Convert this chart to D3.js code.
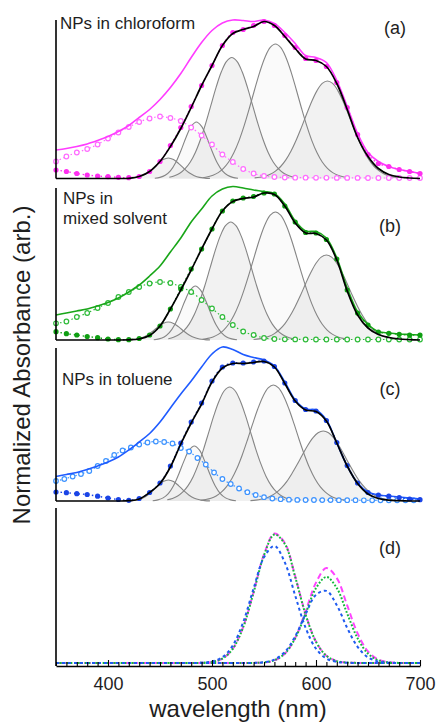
<!DOCTYPE html>
<html>
<head>
<meta charset="utf-8">
<script src="https://cdn.jsdelivr.net/npm/d3@7"></script>
<style>
  body { margin: 0; background: #fff; }
  svg { display: block; font-family: "Liberation Sans", Arial, sans-serif; }
</style>
</head>
<body>
<script>
var width = 437,
    height = 723;

// wavelength grids (nm)
var wl = d3.range(350, 701, 10);
var wlScatterC = d3.range(350, 695, 8);
var peakStep = 5;
var majorTicks = [400, 500, 600, 700];

// (a) NPs in chloroform  (arb. units)
var rawA = [28.5, 30, 32, 34.5, 38, 42, 47, 53, 61, 69, 79, 91, 105, 121, 136, 148, 155.5, 158.5, 158, 157, 158.5, 155, 146, 135, 123, 121, 116, 98, 72, 45, 26, 17, 12, 9, 7, 5];
var scatterA = [17, 22, 26, 29.5, 34, 40, 46, 51.5, 56.5, 60, 62, 60.5, 57.5, 51, 43, 34, 24, 16.5, 9.5, 5, 2.5, 1.5, 1, 0.8, 0.8, 0.7, 0.7, 0.6, 0.6, 0.6, 0.5, 0.5, 0.5, 0.5, 0.5, 0.5];
var dotsA = [8.5, 7, 5, 3.5, 2.5, 1.8, 1.2, 0.8, 2, 7, 17, 33, 51, 72, 93, 113, 133, 146, 149, 153, 157, 153, 143, 131, 120, 118, 112, 96, 71, 44, 24, 15, 12, 9, 7, 5];
var fitA = [0, 0, 0, 0, 0, 0, 0, 0.2, 2, 7, 17, 32, 50, 71, 93, 113, 133, 145, 149, 152, 157, 153, 142, 130, 119.5, 118, 112, 95, 69, 41, 22, 10, 4, 1.5, 0.5, 0];
var peakStartA = [418, 445, 459, 491, 541];
var peaksA = [
  [0.1, 0.4, 1.1, 2.8, 5.7, 10.0, 14.9, 18.9, 20.5, 18.9, 14.9, 10.0, 5.7, 2.8, 1.1, 0.4, 0.1],
  [0.3, 1.1, 3.2, 7.6, 15.7, 27.5, 41.0, 52.1, 56.5, 52.1, 41.0, 27.5, 15.7, 7.6, 3.2, 1.1, 0.3],
  [1.3, 2.8, 5.3, 9.7, 16.3, 26.1, 39.3, 55.4, 73.4, 91.4, 106.7, 117.2, 121, 117.2, 106.7, 91.4, 73.4, 55.4, 39.3, 26.1, 16.3, 9.7, 5.3, 2.8, 1.3],
  [0.8, 1.7, 3.3, 5.9, 10.2, 16.5, 25.7, 37.9, 53.1, 70.5, 89.0, 106.7, 121.3, 131.1, 134.5, 131.1, 121.3, 106.7, 89.0, 70.5, 53.1, 37.9, 25.7, 16.5, 10.2, 5.9, 3.3, 1.7, 0.8],
  [0.6, 1.2, 2.4, 4.3, 7.4, 12.0, 18.6, 27.5, 38.5, 51.1, 64.5, 77.3, 87.9, 95.1, 97.5, 95.1, 87.9, 77.3, 64.5, 51.1, 38.5, 27.5, 18.6, 12.0, 7.4, 4.3, 2.4, 1.2, 0.6]
];

// (b) NPs in mixed solvent
var rawB = [25, 27, 29, 31, 34, 37.5, 42, 48, 55, 64, 74, 88, 102, 118, 131, 144, 151, 153.5, 152, 150, 148.5, 146.5, 136, 119, 109, 108.5, 102, 82, 52, 28, 15.5, 8.5, 7, 6, 5.5, 5];
var scatterB = [16.7, 18.5, 23, 27, 32, 37, 43, 48, 53, 56.5, 58, 57, 53, 48, 40, 31.5, 23, 15, 8.5, 5, 2, 1, 0.7, 0.6, 0.5, 0.5, 0.5, 0.5, 0.5, 0.5, 0.5, 0.5, 0.5, 0.5, 0.5, 0.5];
var dotsB = [8.3, 6.3, 5, 3.5, 2.3, 1, 0.3, 0.3, 1.5, 5, 14, 31, 51, 71, 91, 111, 129, 139, 142, 143.5, 147, 146, 134, 118, 107.5, 107, 100.5, 81, 50, 27, 15, 8, 6.7, 5.7, 5, 5];
var fitB = [0, 0, 0, 0, 0, 0, 0, 0.2, 1, 4.5, 14, 31, 50, 70, 91, 111, 129, 138.5, 141.5, 143, 147, 145.5, 134, 117, 107, 106.5, 100, 80, 49, 25, 12, 5.5, 2.5, 1, 0.4, 0];
var peakStartB = [418, 444, 458, 491, 540];
var peaksB = [
  [0.1, 0.4, 1.0, 2.4, 5.0, 8.8, 13.1, 16.6, 18, 16.6, 13.1, 8.8, 5.0, 2.4, 1.0, 0.4, 0.1],
  [0.3, 1.1, 3.0, 7.3, 15.0, 26.3, 39.2, 49.8, 54, 49.8, 39.2, 26.3, 15.0, 7.3, 3.0, 1.1, 0.3],
  [1.3, 2.7, 5.2, 9.4, 15.9, 25.5, 38.4, 54.0, 71.6, 89.1, 104.1, 114.3, 118, 114.3, 104.1, 89.1, 71.6, 54.0, 38.4, 25.5, 15.9, 9.4, 5.2, 2.7, 1.3],
  [0.8, 1.6, 3.1, 5.6, 9.7, 15.7, 24.4, 36.1, 50.6, 67.1, 84.7, 101.5, 115.5, 124.8, 128, 124.8, 115.5, 101.5, 84.7, 67.1, 50.6, 36.1, 24.4, 15.7, 9.7, 5.6, 3.1, 1.6, 0.8],
  [0.5, 1.1, 2.1, 3.7, 6.4, 10.5, 16.2, 24.0, 33.6, 44.5, 56.3, 67.4, 76.7, 82.9, 85, 82.9, 76.7, 67.4, 56.3, 44.5, 33.6, 24.0, 16.2, 10.5, 6.4, 3.7, 2.1, 1.1, 0.5]
];

// (c) NPs in toluene
var rawC = [24.5, 26.5, 28.5, 31.5, 35, 39, 44, 51, 59, 67.5, 79, 93, 107, 120, 134, 147, 154, 151.5, 146.5, 143.5, 141, 135, 119, 101, 92, 91, 81, 58, 35, 18, 9, 6, 5, 4, 3, 2];
var scatterC = [20, 22, 24.5, 27, 30, 35, 40, 46, 50.5, 53.5, 56.5, 58.5, 59.5, 59, 57.5, 53, 49.5, 43, 36.5, 28.5, 22, 17, 12.5, 8.8, 6, 3.8, 2.5, 1.8, 1.3,
                1.1, 1, 1, 0.9, 0.9, 0.8, 0.8, 0.8, 0.7, 0.7, 0.7, 0.7, 0.7, 0.7, 0.7];
var dotsC = [9, 8.3, 7.3, 6.5, 4.8, 3, 1.5, 0.7, 2.5, 8.5, 18, 35, 58, 79, 98, 120, 134, 138, 138, 139, 140, 134.5, 118, 100.5, 91.5, 90, 80.5, 58.5, 35.5, 18, 8.5, 6, 4.8, 3.5, 2, 1.3];
var fitC = [0, 0, 0, 0, 0, 0, 0, 0.3, 2, 8.5, 17.5, 34, 57, 78, 97, 119, 133, 137.5, 137.5, 138.5, 139.5, 134, 117.5, 100, 91, 89.5, 80, 58, 35, 17.5, 7, 2.5, 0.8, 0.3, 0, 0];
var peakStartC = [418, 443, 457, 489, 537];
var peaksC = [
  [0.1, 0.4, 1.2, 2.8, 5.8, 10.2, 15.2, 19.4, 21, 19.4, 15.2, 10.2, 5.8, 2.8, 1.2, 0.4, 0.1],
  [0.3, 1.1, 3.1, 7.4, 15.3, 26.8, 39.9, 50.8, 55, 50.8, 39.9, 26.8, 15.3, 7.4, 3.1, 1.1, 0.3],
  [1.3, 2.6, 5.0, 9.1, 15.4, 24.6, 37.1, 52.2, 69.2, 86.1, 100.5, 110.5, 114, 110.5, 100.5, 86.1, 69.2, 52.2, 37.1, 24.6, 15.4, 9.1, 5.0, 2.6, 1.3],
  [0.7, 1.5, 2.8, 5.1, 8.8, 14.3, 22.2, 32.7, 45.8, 60.8, 76.8, 92.0, 104.6, 113.1, 116, 113.1, 104.6, 92.0, 76.8, 60.8, 45.8, 32.7, 22.2, 14.3, 8.8, 5.1, 2.8, 1.5, 0.7],
  [0.4, 0.9, 1.7, 3.1, 5.3, 8.6, 13.4, 19.7, 27.7, 36.7, 46.3, 55.5, 63.1, 68.3, 70, 68.3, 63.1, 55.5, 46.3, 36.7, 27.7, 19.7, 13.4, 8.6, 5.3, 3.1, 1.7, 0.9, 0.4]
];

// (d) the two main bands of each sample
var dPink560 = [0, 0, 0, 0, 0, 0, 0, 0, 0, 0, 0, 0, 0, 0, 0.2, 1.1, 4.4, 14.3, 36.1, 71, 108.6, 129.4, 120, 86.7, 48.8, 21.4, 7.3, 1.9, 0.4, 0.1, 0, 0, 0, 0, 0, 0];
var dGreen560 = [0, 0, 0, 0, 0, 0, 0, 0, 0, 0, 0, 0, 0, 0, 0.2, 1.1, 4.4, 14.2, 35.8, 70.5, 107.8, 128.4, 119.1, 86, 48.4, 21.2, 7.2, 1.9, 0.4, 0.1, 0, 0, 0, 0, 0, 0];
var dBlue560 = [0, 0, 0, 0, 0, 0, 0, 0, 0, 0, 0, 0, 0, 0, 0.3, 1.5, 5.8, 17.5, 40.9, 74.5, 105.7, 117, 100.6, 67.4, 35.2, 14.3, 4.5, 1.1, 0.2, 0, 0, 0, 0, 0, 0, 0];
var dPink610 = [0, 0, 0, 0, 0, 0, 0, 0, 0, 0, 0, 0, 0, 0, 0, 0, 0, 0, 0, 0.1, 0.6, 2.6, 9.2, 25.1, 51.6, 80.4, 94.9, 84.9, 57.6, 29.6, 11.6, 3.4, 0.8, 0.1, 0, 0];
var dGreen610 = [0, 0, 0, 0, 0, 0, 0, 0, 0, 0, 0, 0, 0, 0, 0, 0, 0, 0, 0, 0.1, 0.6, 2.7, 9.4, 24.7, 49.4, 74.9, 86, 74.9, 49.4, 24.7, 9.4, 2.7, 0.6, 0.1, 0, 0];
var dBlue610 = [0, 0, 0, 0, 0, 0, 0, 0, 0, 0, 0, 0, 0, 0, 0, 0, 0, 0, 0, 0.1, 0.8, 3.4, 11, 26.6, 48.9, 68.2, 72.1, 57.8, 35.1, 16.2, 5.6, 1.5, 0.3, 0, 0, 0];

var svg = d3.select("body").append("svg")
    .attr("width", width)
    .attr("height", height);

var x = d3.scaleLinear()
    .domain([350, 700])
    .range([56, 420]);

var curve = d3.curveCatmullRom.alpha(0.5);
var textColor = "#1e1e1e";

var panels = [
  {raw: rawA, scatter: scatterA, scatterWl: wl, dots: dotsA, fit: fitA, starts: peakStartA, peaks: peaksA,
   base: 178.5, top: 20, color: "#ff3cff", open: "#ff6cff", dot: "#ff2ef0",
   tag: "(a)", tagX: 395, tagY: 34, name: ["NPs in chloroform"], nameX: 60, nameY: 28.5},
  {raw: rawB, scatter: scatterB, scatterWl: wl, dots: dotsB, fit: fitB, starts: peakStartB, peaks: peaksB,
   base: 340, top: 188, color: "#19a619", open: "#2fbb3a", dot: "#0f9e12",
   tag: "(b)", tagX: 390, tagY: 232, name: ["NPs in", "mixed solvent"], nameX: 63, nameY: 204},
  {raw: rawC, scatter: scatterC, scatterWl: wlScatterC, dots: dotsC, fit: fitC, starts: peakStartC, peaks: peaksC,
   base: 501, top: 348, color: "#1f5bff", open: "#3d93ff", dot: "#1a44e6",
   tag: "(c)", tagX: 390, tagY: 395, name: ["NPs in toluene"], nameX: 62, nameY: 385}
];

function drawPanel(p) {
  var y = d3.scaleLinear().domain([0, 160]).range([p.base, p.base - 160]);
  var g = svg.append("g");

  var line = d3.line()
      .x(d => x(d[0]))
      .y(d => y(d[1]))
      .curve(curve);
  var area = d3.area()
      .x(d => x(d[0]))
      .y0(y(0))
      .y1(d => y(d[1]))
      .curve(curve);

  var onGrid = vals => vals.map((v, i) => [wl[i], v]);
  var comps = p.peaks.map((vals, k) => vals.map((v, i) => [p.starts[k] + i * peakStep, v]));

  // fitted gaussian bands
  g.selectAll(".band-fill")
    .data(comps).enter()
    .append("path")
    .attr("d", area)
    .attr("fill", (d, k) => k % 2 ? "#e6e6e6" : "#d6d6d6")
    .attr("fill-opacity", (d, k) => k % 2 ? 0.22 : 0.32);

  g.selectAll(".band")
    .data(comps).enter()
    .append("path")
    .attr("d", line)
    .attr("fill", "none")
    .attr("stroke", "#858585")
    .attr("stroke-width", 1.1);

  // scattering background (open circles)
  var scat = p.scatter.map((v, i) => [p.scatterWl[i], v]);
  g.append("path")
    .datum(scat)
    .attr("d", line)
    .attr("fill", "none")
    .attr("stroke", p.open)
    .attr("stroke-width", 1.2)
    .attr("stroke-dasharray", "1.5,2.5");
  g.selectAll(".open")
    .data(scat).enter()
    .append("circle")
    .attr("cx", d => x(d[0]))
    .attr("cy", d => y(d[1]))
    .attr("r", 2.3)
    .attr("fill", "#fff")
    .attr("stroke", p.open)
    .attr("stroke-width", 1.2);

  // measured spectrum
  g.append("path")
    .datum(onGrid(p.raw))
    .attr("d", line)
    .attr("fill", "none")
    .attr("stroke", p.color)
    .attr("stroke-width", 1.6);

  // corrected spectrum (filled dots)
  g.append("path")
    .datum(onGrid(p.dots))
    .attr("d", line)
    .attr("fill", "none")
    .attr("stroke", p.dot)
    .attr("stroke-width", 1.4)
    .attr("stroke-dasharray", "1.5,3");
  g.selectAll(".dot")
    .data(onGrid(p.dots)).enter()
    .append("circle")
    .attr("cx", d => x(d[0]))
    .attr("cy", d => y(d[1]))
    .attr("r", 2.6)
    .attr("fill", p.dot);

  // total fit
  g.append("path")
    .datum(onGrid(p.fit))
    .attr("d", line)
    .attr("fill", "none")
    .attr("stroke", "#000")
    .attr("stroke-width", 1.7);

  g.append("line")
    .attr("x1", x(350)).attr("x2", x(350))
    .attr("y1", p.top).attr("y2", p.base)
    .attr("stroke", "#000")
    .attr("stroke-width", 1.6);

  g.append("text")
    .attr("x", p.tagX)
    .attr("y", p.tagY)
    .attr("text-anchor", "middle")
    .attr("font-size", "18px")
    .attr("fill", textColor)
    .text(p.tag);

  g.selectAll(".name")
    .data(p.name).enter()
    .append("text")
    .attr("x", p.nameX)
    .attr("y", (d, i) => p.nameY + i * 20)
    .attr("font-size", "17px")
    .attr("fill", textColor)
    .text(d => d);
}

panels.forEach(drawPanel);

// panel (d)
var baseD = 663, axisD = 666;
var yD = d3.scaleLinear().domain([0, 160]).range([baseD, baseD - 160]);
var lineD = d3.line()
    .x((d, i) => x(wl[i]))
    .y(d => yD(d))
    .curve(curve);

var bands = [
  {vals: dPink560, color: "#ff44ff", dash: "6,3.5"},
  {vals: dPink610, color: "#ff44ff", dash: "6,3.5"},
  {vals: dGreen560, color: "#13b83a", dash: "1.8,1.8"},
  {vals: dGreen610, color: "#13b83a", dash: "1.8,1.8"},
  {vals: dBlue560, color: "#1f5bf0", dash: "3,3"},
  {vals: dBlue610, color: "#1f5bf0", dash: "3,3"}
];

var gD = svg.append("g");
gD.selectAll(".dband")
  .data(bands).enter()
  .append("path")
  .attr("d", d => lineD(d.vals))
  .attr("fill", "none")
  .attr("stroke", d => d.color)
  .attr("stroke-width", 2)
  .attr("stroke-dasharray", d => d.dash);

var xAxis = g => g
    .attr("transform", `translate(0,${axisD})`)
    .call(d3.axisBottom(x)
      .tickValues(wl)
      .tickSizeInner(-4)
      .tickSizeOuter(0)
      .tickPadding(11)
      .tickFormat(d => majorTicks.includes(d) ? d : ""))
    .call(g => g.select(".domain").attr("stroke", "#000").attr("stroke-width", 1.6))
    .call(g => g.selectAll(".tick line").attr("stroke", "#000").attr("stroke-width", 1.1)
      .attr("y2", d => majorTicks.includes(d) ? -6 : -4))
    .call(g => g.selectAll(".tick text")
      .attr("font-size", "18px")
      .attr("font-family", "Liberation Sans, Arial, sans-serif")
      .attr("fill", textColor));

svg.append("g").call(xAxis);

svg.append("line")
  .attr("x1", x(350)).attr("x2", x(350))
  .attr("y1", 508).attr("y2", axisD)
  .attr("stroke", "#000")
  .attr("stroke-width", 1.6);

svg.append("text")
  .attr("x", 390)
  .attr("y", 554)
  .attr("text-anchor", "middle")
  .attr("font-size", "18px")
  .attr("fill", textColor)
  .text("(d)");

// axis titles
svg.append("text")
  .attr("x", 238)
  .attr("y", 717)
  .attr("text-anchor", "middle")
  .attr("font-size", "24px")
  .attr("fill", textColor)
  .text("wavelength (nm)");

svg.append("text")
  .attr("transform", "translate(30,365) rotate(-90)")
  .attr("text-anchor", "middle")
  .attr("font-size", "24px")
  .attr("fill", textColor)
  .text("Normalized Absorbance (arb.)");
</script>
</body>
</html>
